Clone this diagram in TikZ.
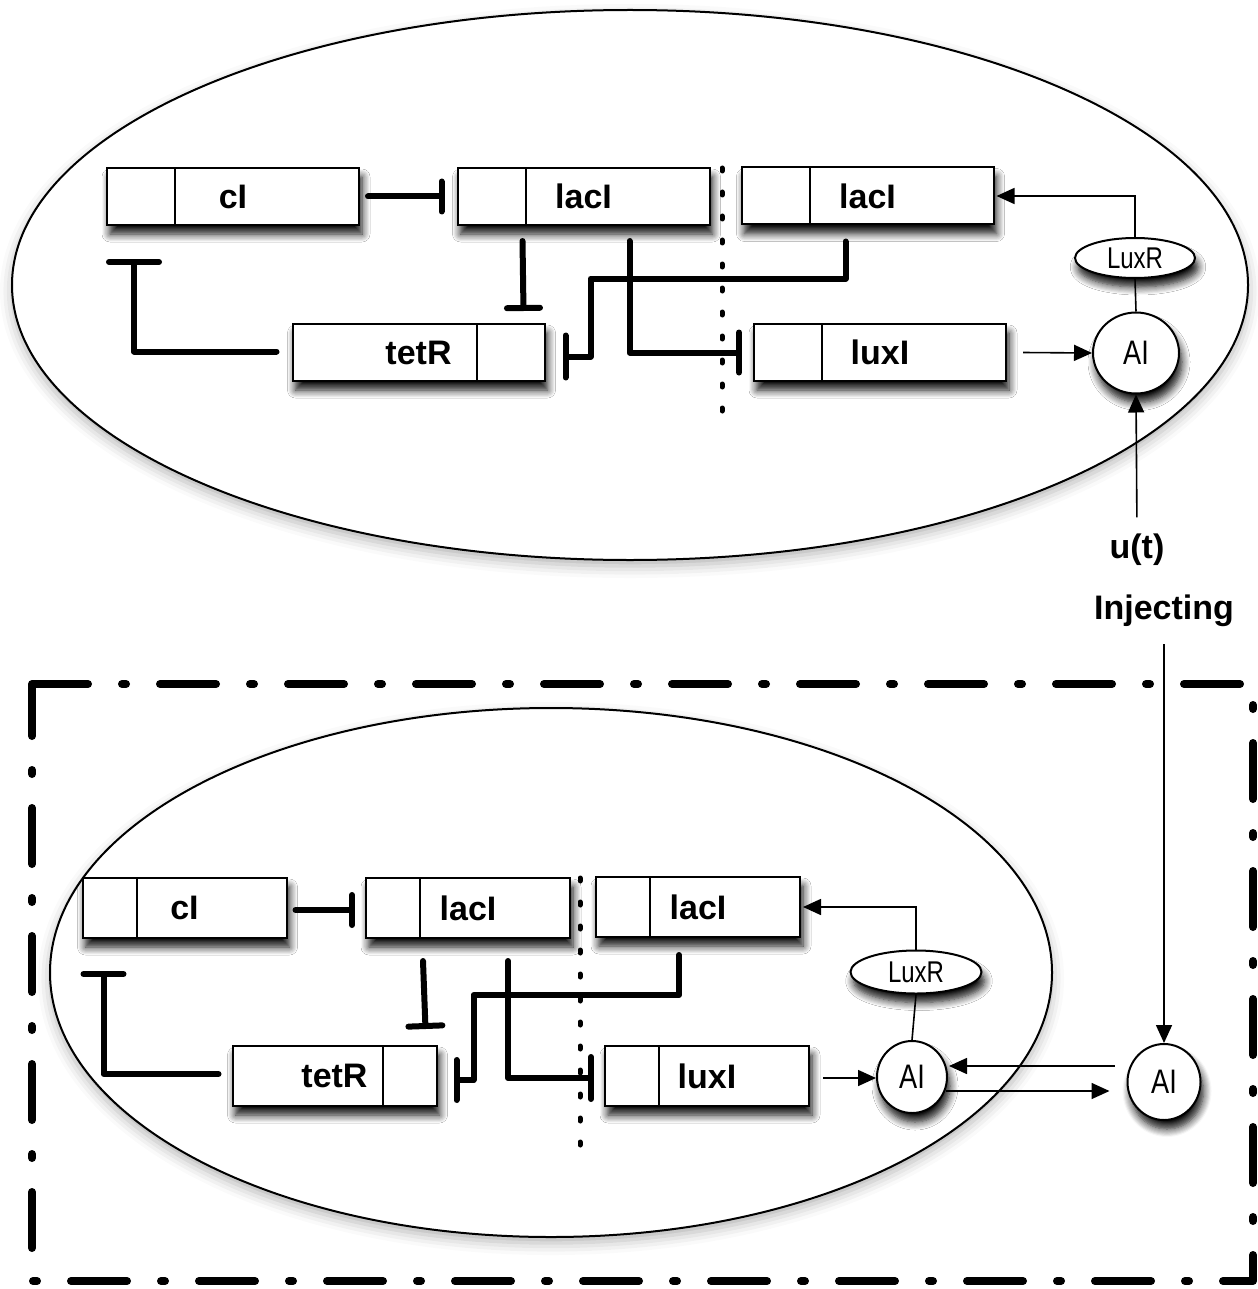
\documentclass[tikz,border=0pt]{standalone}
\usepackage{fontspec}
\setmainfont{Liberation Sans}
\newfontfamily\condfont[FakeStretch=0.8]{Liberation Sans}
\usetikzlibrary{arrows.meta,calc,shapes.geometric,shadows.blur}
\begin{document}
\begin{tikzpicture}[x=0.5pt,y=-0.5pt,
  shad/.style={blur shadow={shadow xshift=1.5pt,shadow yshift=-4.5pt,shadow blur radius=4pt,shadow blur steps=8,shadow opacity=95}},
  softshad/.style={blur shadow={shadow xshift=0pt,shadow yshift=-3pt,shadow blur radius=6pt,shadow opacity=30}},
  cell/.style={ellipse, draw, line width=1pt, fill=white, inner sep=0pt, softshad},
  gene/.style={rectangle, draw, line width=1pt, fill=white, inner sep=0pt, shad, font=\fontsize{17}{20}\selectfont\bfseries},
  geneT/.style={gene, minimum width=126pt, minimum height=28.5pt},
  geneB/.style={gene, minimum width=102pt, minimum height=30pt},
  promT/.style={rectangle, draw, line width=1pt, fill=white, inner sep=0pt, minimum width=34pt, minimum height=28.5pt},
  promB/.style={rectangle, draw, line width=1pt, fill=white, inner sep=0pt, minimum width=27pt, minimum height=30pt},
  mol/.style={ellipse, draw, line width=1pt, fill=white, inner sep=0pt, shad},
  luxr/.style={mol, font=\condfont\fontsize{15}{17}\selectfont},
  ai/.style={mol, font=\condfont\fontsize{17}{19}\selectfont},
  lbl/.style={inner sep=0pt, font=\fontsize{17}{20}\selectfont\bfseries},
  inh/.style={line width=3pt, line join=round, line cap=round},
  arr/.style={line width=0.8pt, -{Triangle[length=9pt,width=8pt]}},
  dots/.style={line width=2.5pt, line cap=round, dash pattern=on 1.5pt off 10.5pt},
  frame/.style={line width=4pt, line cap=round, line join=round, dash pattern=on 28pt off 17pt on 2pt off 17pt}
]
\useasboundingbox (0,0) rectangle (1257,1289);

% ---------------- top cell ----------------
\node[cell, minimum width=618pt, minimum height=275pt] (cellT) at (630,285) {};

\node[geneT] (cI) at (233,196.5) {cI};
\node[promT, anchor=west] (cIp) at (cI.west) {};
\node[geneT] (lacIa) at (583.5,196.5) {lacI};
\node[promT, anchor=west] (lacIap) at (lacIa.west) {};
\node[geneT] (lacIb) at (867.5,196) {lacI};
\node[promT, anchor=west] (lacIbp) at (lacIb.west) {};
\node[geneT] (tetR) at (418.5,352.5) {tetR};
\node[promT, anchor=east] (tetRp) at (tetR.east) {};
\node[geneT] (luxI) at (880,352.5) {luxI};
\node[promT, anchor=west] (luxIp) at (luxI.west) {};

\node[luxr, minimum width=60pt, minimum height=20pt] (luxR) at (1135,258) {LuxR};
\node[ai, minimum width=43pt, minimum height=40.5pt] (AI) at (1136,353) {AI};

\node[lbl] (u) at (1137,549.5) {u(t)};
\node[lbl] (inj) at (1164,611) {Injecting};

\draw[dots] (722,168) -- (722,430);

% inhibitions (top)
\draw[inh, -{Bar[width=15pt,round]}] ($(cI.east)+(8,0)$) -- ($(lacIa.west)+(-12,0)$);
\draw[inh, -{Bar[width=25pt,round]}] ($(tetR.west)+(-15,-1)$) -| ($(cI.south west)+(28,33)$);
\draw[inh, -{Bar[width=16.5pt,round]}] ($(lacIa.south west)+(66,15)$) -- ($(tetR.north east)+(-22,-12)$);
\draw[inh, -{Bar[width=20pt,round]}] ($(lacIa.south west)+(173,15)$) |- ($(luxI.west)+(-11,0)$);
\draw[inh, -{Bar[width=21pt,round]}] ($(lacIb.south west)+(105,16)$) |- ($(tetR.east)+(45,-74)$) |- ($(tetR.east)+(17,4)$);

% activations (top)
\draw[arr] ($(luxI.east)+(16,0)$) -- (AI.west);
\draw[line width=0.8pt] (AI.north) -- (luxR.south);
\draw[arr] (luxR.north) |- ($(lacIb.east)+(2,0)$);
\draw[arr, shorten <=8pt] (u.north) -- (AI.south);

% ---------------- bottom ----------------
\draw[frame] (32,684) -- (1253,684) -- (1253,1281) -- (32,1281) -- cycle;

\node[cell, minimum width=501pt, minimum height=264.5pt] (cellB) at (551,972.5) {};

\node[geneB] (cIB) at (184.5,908) {cI};
\node[promB, anchor=west] (cIBp) at (cIB.west) {};
\node[geneB] (lacIaB) at (468,908) {lacI};
\node[promB, anchor=west] (lacIaBp) at (lacIaB.west) {};
\node[geneB] (lacIbB) at (698,907) {lacI};
\node[promB, anchor=west] (lacIbBp) at (lacIbB.west) {};
\node[geneB] (tetRB) at (334.5,1076) {tetR};
\node[promB, anchor=east] (tetRBp) at (tetRB.east) {};
\node[geneB] (luxIB) at (707,1076) {luxI};
\node[promB, anchor=west] (luxIBp) at (luxIB.west) {};

\node[luxr, minimum width=65.5pt, minimum height=21.5pt] (luxRB) at (916,972) {LuxR};
\node[ai, minimum width=35pt, minimum height=36pt] (AIB) at (912,1077) {AI};
\node[ai, minimum width=36.5pt, minimum height=38pt] (AIo) at (1164,1082) {AI};

\draw[dots] (580,878) -- (580,1165);

% inhibitions (bottom)
\draw[inh, -{Bar[width=15pt,round]}] ($(cIB.east)+(8,2)$) -- ($(lacIaB.west)+(-10,2)$);
\draw[inh, -{Bar[width=20pt,round]}] ($(tetRB.west)+(-13,-2)$) -| ($(cIB.south west)+(22,32)$);
\draw[inh, -{Bar[width=17pt,round]}] ($(lacIaB.south west)+(58,22)$) -- ($(tetRB.north east)+(-12,-16)$);
\draw[inh, -{Bar[width=21pt,round]}] ($(lacIaB.south west)+(143,22)$) |- ($(luxIB.west)+(-10,2)$);
\draw[inh, -{Bar[width=20pt,round]}] ($(lacIbB.south west)+(84,17)$) |- ($(tetRB.east)+(36,-81)$) |- ($(tetRB.east)+(16,4)$);

% activations (bottom)
\draw[arr] ($(luxIB.east)+(13,2)$) -- ($(AIB.west)+(0,1)$);
\draw[line width=0.8pt] (AIB.north) -- (luxRB.south);
\draw[arr] (luxRB.north) |- ($(lacIbB.east)+(2,0)$);
\draw[arr] ($(AIo.west)+(-12,-16)$) -- ($(AIB.east)+(1,-11)$);
\draw[arr] ($(AIB.east)+(-2,14)$) -- ($(AIo.west)+(-17,9)$);
\draw[arr, shorten <=8.5pt] (inj.south) -- (AIo.north);
\end{tikzpicture}
\end{document}
